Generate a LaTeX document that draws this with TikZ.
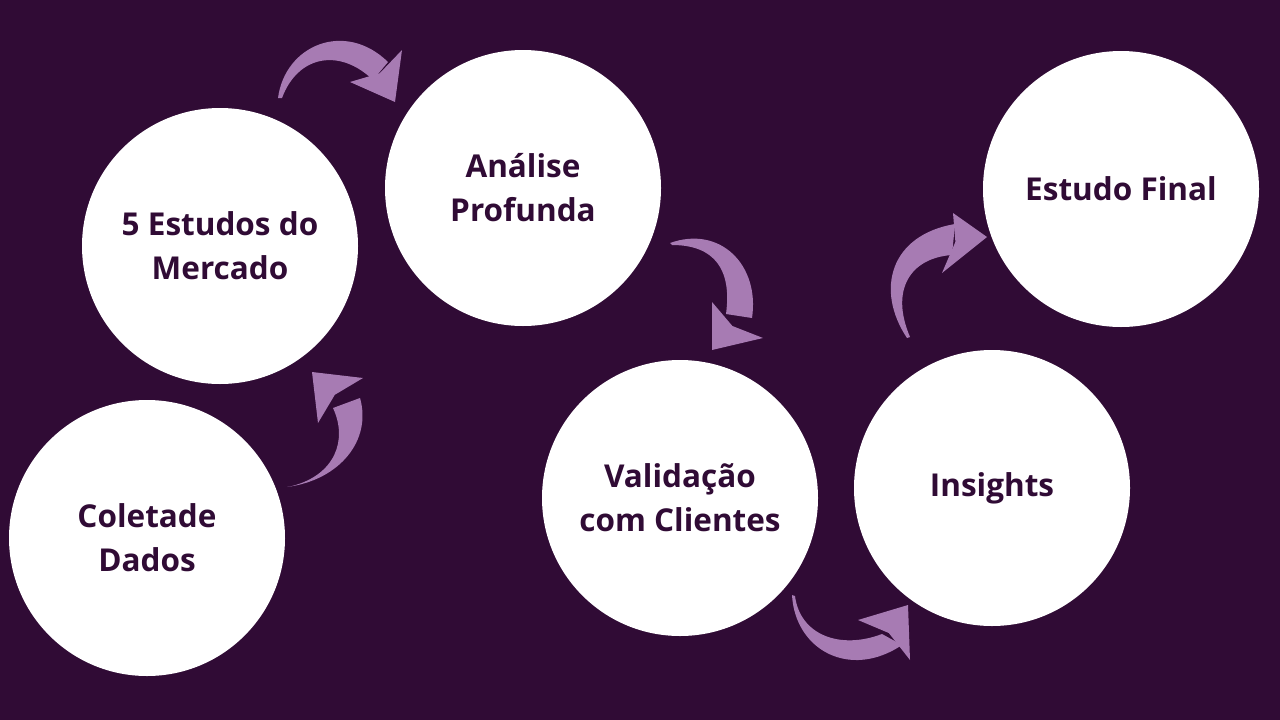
\documentclass[tikz,border=0pt]{standalone}
\usepackage{fontspec}
\setmainfont{Open Sans}
\definecolor{fundo}{HTML}{300B35}
\definecolor{seta}{HTML}{A77BB3}
\tikzset{
  etapa/.style={circle, fill=white, minimum size=276pt, inner sep=0pt, align=center,
    text=fundo, font=\fontsize{31.5}{44}\selectfont\bfseries},
  pincel/.style={fill=seta, draw=none}
}
\begin{document}
\begin{tikzpicture}[x=1pt,y=-1pt]
        \fill[fundo] (0,0) rectangle (1280,720);
        \useasboundingbox (0,0) rectangle (1280,720);

        \node[etapa] (coleta) at (147,538) {Coletade\\Dados};
        \node[etapa] (estudos) at (220,246) {5 Estudos do\\Mercado};
        \node[etapa] (analise) at (523,188) {Análise\\Profunda};
        \node[etapa] (validacao) at (680,498) {Validação\\com Clientes};
        \node[etapa] (insights) at (992,488) {Insights};
        \node[etapa] (final) at (1121,189) {Estudo Final};

        % coleta -> estudos
        \fill[pincel] (287,487) .. controls (340,480) and (372,440) .. (360,398)
                -- (333,408) .. controls (348,440) and (335,475) .. (292,486) -- cycle;
        \fill[pincel] (312,372) -- (363,378) -- (334.8,394.8) -- (318,423) -- cycle;
        % estudos -> analise
        \fill[pincel] (278,98) .. controls (285,45) and (345,20) .. (388,62)
                -- (373,80) .. controls (340,48) and (298,55) .. (282,98) -- cycle;
        \fill[pincel] (395,102) -- (402,50) -- (379.8,73.2) -- (350,82) -- cycle;
        % analise -> validacao
        \fill[pincel] (670,243) .. controls (720,225) and (760,265) .. (752,318)
                -- (726,314) .. controls (732,270) and (715,245) .. (672,245) -- cycle;
        \fill[pincel] (712,350) -- (763,338) -- (732.4,326) -- (712,302) -- cycle;
        % validacao -> insights
        \fill[pincel] (792,595) .. controls (795,650) and (850,680) .. (902,645)
                -- (882,634) .. controls (840,650) and (800,635) .. (795,596) -- cycle;
        \fill[pincel] (908,605) -- (858,620) -- (888.8,633) -- (910,660) -- cycle;
        % insights -> final
        \fill[pincel] (907,338) .. controls (875,290) and (890,235) .. (955,224)
                -- (952,255) .. controls (910,258) and (890,290) .. (910,337) -- cycle;
        \fill[pincel] (987,237) -- (953,213) -- (955.4,241.8) -- (942,273) -- cycle;
\end{tikzpicture}
\end{document}
